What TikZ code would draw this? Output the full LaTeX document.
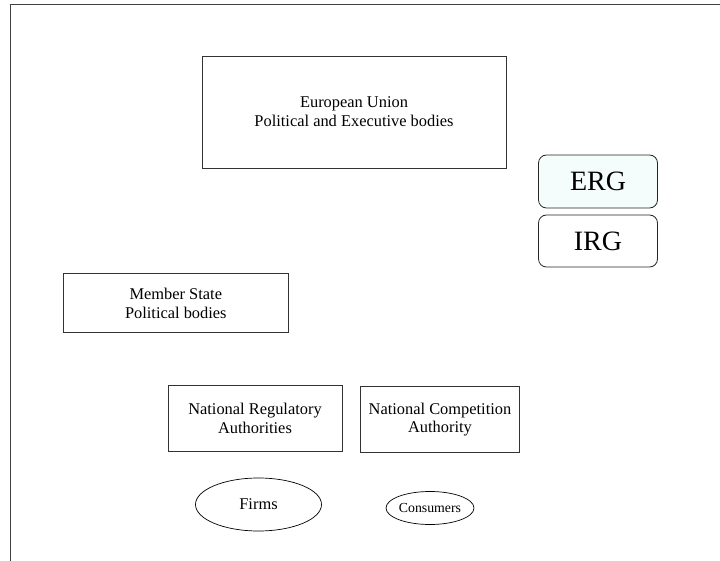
\documentclass[tikz,border=0pt]{standalone}
\usepackage{fontspec}
\setmainfont{Liberation Serif}
\usetikzlibrary{shapes.geometric}
\definecolor{ergfill}{RGB}{244,252,252}
\begin{document}
\begin{tikzpicture}[x=1pt,y=-1pt,
 box/.style={draw=black!80, line width=0.8pt, rectangle, align=center, inner sep=0pt, font=\fontsize{16.4}{18.8}\selectfont},
 rbox/.style={draw=black!85, line width=0.8pt, rectangle, rounded corners=8pt, inner sep=0pt, font=\fontsize{28}{32}\selectfont},
 oval/.style={draw=black, line width=0.7pt, ellipse, inner sep=0pt},
 frame/.style={draw=black!75, line width=0.9pt}]
\useasboundingbox (0,0) rectangle (720,561);
\coordinate (fb) at (10,561);
\coordinate (fc) at (10,4);
\coordinate (fr) at (720,4);
\draw[frame] (fb) -- (fc) -- (fr);
\node[box, minimum width=304pt, minimum height=112pt] (eu) at (354,112) {European Union\\Political and Executive bodies};
\node[rbox, fill=ergfill, minimum width=119pt, minimum height=53pt] (erg) at (598,181.5) {ERG};
\node[rbox, minimum width=119pt, minimum height=52pt] (irg) at (598,241) {IRG};
\node[box, minimum width=225pt, minimum height=59pt] (ms) at (175.8,303) {Member State\\Political bodies};
\node[box, minimum width=174pt, minimum height=66pt] (nra) at (255,418.7) {National Regulatory\\Authorities};
\node[box, minimum width=159pt, minimum height=66pt] (nca) at (440,419.5) {National Competition\\Authority};
\node[oval, minimum width=126pt, minimum height=53pt, font=\fontsize{16.4}{18}\selectfont] (firms) at (258.5,504.5) {Firms};
\node[oval, minimum width=88pt, minimum height=33pt, font=\fontsize{13.8}{16}\selectfont] (cons) at (430,508) {Consumers};
\end{tikzpicture}
\end{document}
